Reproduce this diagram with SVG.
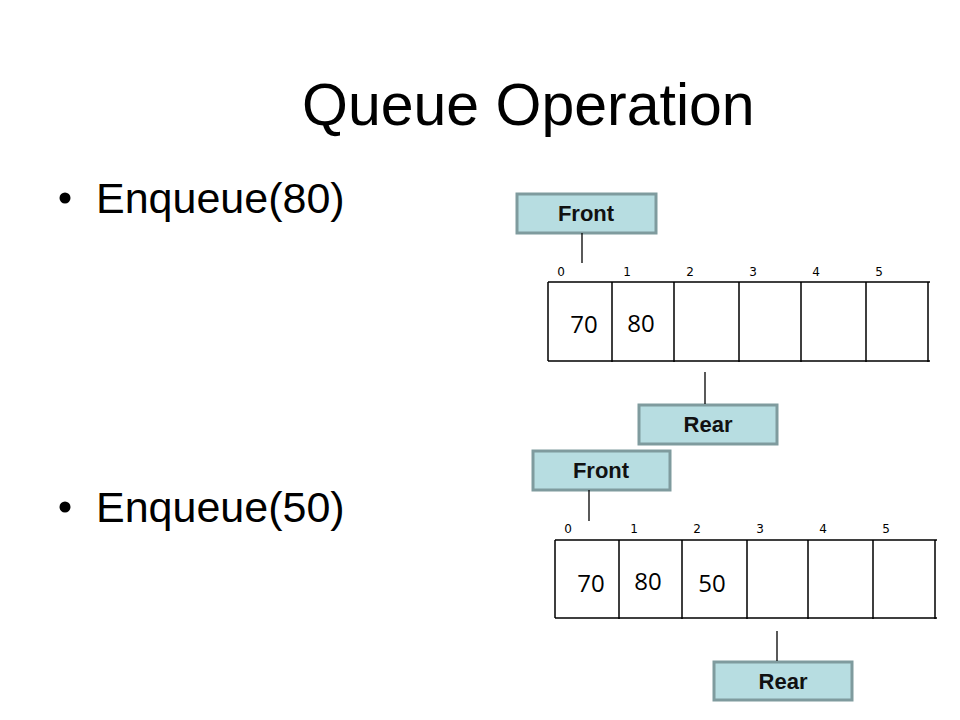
<svg xmlns="http://www.w3.org/2000/svg" width="960" height="720" viewBox="0 0 960 720">
<style>
.title{font-family:"Liberation Sans",Arial,sans-serif;font-size:59px;fill:#000}
.bullet{font-family:"Liberation Sans",Arial,sans-serif;font-size:43px;fill:#000}
.tag rect{fill:#b7dde1;stroke:#7f9b9e;stroke-width:3}
.tag text{font-family:"Liberation Sans",Arial,sans-serif;font-size:22px;font-weight:bold;fill:#111;text-anchor:middle}
.idx{font-family:"DejaVu Sans",Verdana,sans-serif;font-size:12px;fill:#000;text-anchor:middle}
.val{font-family:"Open Sans","Noto Sans",sans-serif;font-size:24px;fill:#000;text-anchor:middle}
.cell{fill:none;stroke:#000;stroke-width:1.5}
.conn line{stroke:#000;stroke-width:1.3}
</style>
<rect width="960" height="720" fill="#fff"/>
<text class="title" x="302" y="125">Queue Operation</text>
<g id="bullet1"><circle cx="65" cy="198" r="5.5" fill="#000"/><text class="bullet" x="96" y="213">Enqueue(80)</text></g>
<g id="bullet2"><circle cx="65" cy="507" r="5.5" fill="#000"/><text class="bullet" x="96" y="522">Enqueue(50)</text></g>

<g id="array1">
<path class="cell" d="M548,282 H930 M548,361 H930 M548,282 V361 M612,282 V362 M674,282 V362 M739,282 V362 M801,282 V362 M866,282 V362 M928,282 V362"/>
<text class="idx" x="561" y="276">0</text>
<text class="idx" x="627" y="276">1</text>
<text class="idx" x="690" y="276">2</text>
<text class="idx" x="753" y="276">3</text>
<text class="idx" x="816" y="276">4</text>
<text class="idx" x="879" y="276">5</text>
<text class="val" x="584" y="333">70</text>
<text class="val" x="641" y="332">80</text>
</g>
<g id="front1" class="tag"><rect x="517" y="194" width="139" height="39"/><text x="586" y="221">Front</text></g>
<g id="rear1" class="tag"><rect x="639" y="405" width="138" height="39"/><text x="708" y="432">Rear</text></g>

<g id="array2">
<path class="cell" d="M555,540 H937 M555,618 H937 M555,540 V618 M619,540 V619 M682,540 V619 M747,540 V619 M808,540 V619 M873,540 V619 M935,540 V619"/>
<text class="idx" x="568" y="533">0</text>
<text class="idx" x="634" y="533">1</text>
<text class="idx" x="697" y="533">2</text>
<text class="idx" x="760" y="533">3</text>
<text class="idx" x="823" y="533">4</text>
<text class="idx" x="886" y="533">5</text>
<text class="val" x="591" y="592">70</text>
<text class="val" x="648" y="590">80</text>
<text class="val" x="712" y="592">50</text>
</g>
<g id="front2" class="tag"><rect x="533" y="451" width="137" height="39"/><text x="601" y="478">Front</text></g>
<g id="rear2" class="tag"><rect x="714" y="662" width="138" height="38"/><text x="783" y="689">Rear</text></g>

<g id="connectors" class="conn">
<line x1="582" y1="233" x2="582" y2="263"/>
<line x1="705" y1="372" x2="705" y2="404"/>
<line x1="589" y1="490" x2="589" y2="521"/>
<line x1="777" y1="631" x2="777" y2="661"/>
</g>
</svg>
